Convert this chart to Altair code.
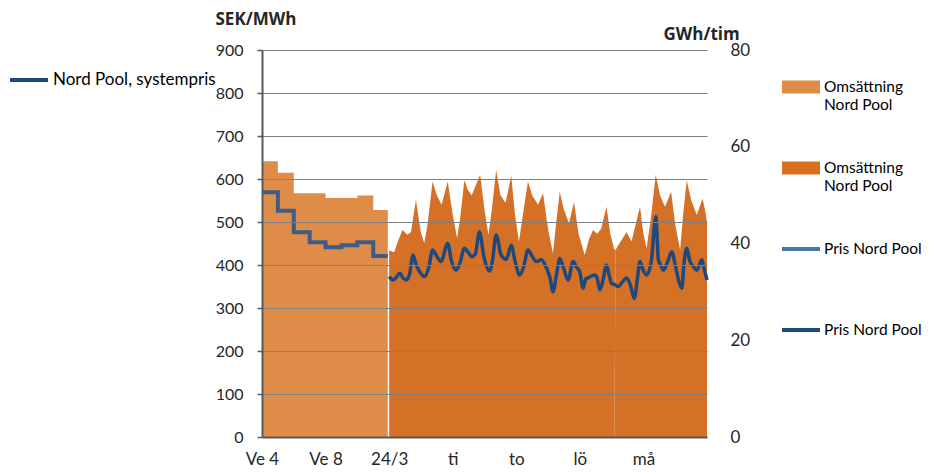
import altair as alt
import pandas as pd

# ---------------- data ----------------
weeks = [4, 5, 6, 7, 8, 9, 10, 11]
week_volume = [57.0, 54.6, 50.4, 50.4, 49.4, 49.4, 49.9, 46.9]      # GWh/tim
week_price = [569, 526, 476, 453, 441, 446, 453, 421]               # SEK/MWh

# hourly section, hours from 24/3 00:00
vol_hours = [0, 3.8, 6, 10, 13.9, 16.5, 20.2, 24, 26.5,
             29, 32.8, 36, 39.6, 44.2, 48, 51.3,
             53.5, 56.8, 59.5, 62.4, 68.7, 72, 75,
             77.5, 80.8, 84, 87.9, 92.2, 95, 98,
             101, 104.8, 108, 112.4, 116.2, 120, 123.7,
             126, 128.8, 132, 135.8, 139.6, 143, 147.7,
             151, 154, 157, 160, 164.1, 167, 170,
             171, 175, 179.3, 183, 189.4, 192, 194.4,
             197.5, 201.3, 204.5, 208.3, 212.9, 216, 219.7,
             222, 224.7, 228, 232.3, 236.6, 238.5, 240]
vol_values = [38.6, 38.2, 40.0, 42.8, 41.8, 42.4, 49.0, 42.2, 40.1,
              44.0, 52.8, 50.0, 48.0, 52.8, 46.0, 41.1,
              45.0, 53.1, 51.0, 50.0, 54.2, 47.0, 41.8,
              47.0, 55.2, 50.0, 48.4, 54.0, 46.0, 40.4,
              46.0, 52.8, 50.0, 48.0, 50.4, 43.0, 38.0,
              44.0, 50.7, 47.0, 44.2, 48.6, 42.0, 37.6,
              41.0, 42.8, 42.0, 43.0, 47.6, 42.0, 38.7,
              38.7, 40.5, 42.4, 40.4, 47.6, 42.0, 39.0,
              45.0, 54.2, 50.0, 47.6, 50.7, 44.0, 38.7,
              46.0, 53.1, 49.0, 45.9, 49.3, 47.0, 44.5]
dst_gap_hour = 170.5

price_hours = [0, 3, 5.5, 8, 10.5, 13, 15.5, 18, 20.5, 23,
               26.5, 30, 32.8, 36, 39.1, 44.2, 47, 50.5,
               53.5, 56.8, 60, 62.4, 65, 68.2, 71.5, 75.8,
               78, 80.8, 84.6, 88.4, 92.2, 95, 98.5,
               101.5, 104.8, 108, 111.1, 115, 118.9, 121.5, 123.7,
               126.5, 128.8, 131.5, 135.1, 138.9, 141.5, 143.9, 146.5,
               148.5, 150.3, 153, 155.3, 157, 159.1, 161.5, 164.1, 166, 167.9,
               170, 173, 176, 179.3, 182, 185.1, 187.5, 189.4, 191.5, 194.4,
               198, 201.3, 203.3, 205, 207.1, 210, 213.4, 216, 218.5, 221,
               222.5, 224.7, 227, 229.8, 232.3, 236.1, 238, 240]
price_values = [373, 365, 372, 381, 370, 365, 380, 423, 400, 385,
                373, 395, 435, 420, 408, 450, 410, 388,
                405, 439, 428, 419, 425, 477, 420, 386,
                410, 470, 423, 413, 446, 410, 377,
                395, 435, 420, 408, 412, 392, 370, 338,
                380, 415, 395, 365, 408, 395, 384, 346,
                368, 370, 375, 377, 370, 342, 365, 400, 378, 357,
                355, 350, 360, 370, 355, 322, 370, 408, 390, 377,
                410, 512, 412, 400, 388, 405, 431, 400, 365, 346,
                400, 439, 410, 396, 388, 412, 390, 365]

tick_hours = [-96, -48, 0, 48, 96, 144, 192]
tick_labels = ["Ve 4", "Ve 8", "24/3", "ti", "to", "lö", "må"]

legend_names = ["Omsättning|Nord Pool", "Omsättning|Nord Pool ", "Pris Nord Pool|", "Pris Nord Pool |"]
legend_colors = ["#DE8C48", "#D57121", "#4A77AA", "#1F497D"]
left_legend_name = ["Nord Pool, systempris"]

# ---------------- frames ----------------
# weekly section is drawn on the same hour axis: each week = 12 units, ending at 24/3
wk = pd.DataFrame({"x": [(w - 12) * 12 for w in weeks], "vol": week_volume, "price": week_price})
wk = pd.concat([wk, pd.DataFrame({"x": [-1], "vol": [week_volume[-1]], "price": [week_price[-1]]})],
               ignore_index=True)

hv = pd.DataFrame({"x": vol_hours, "vol": vol_values})
hv["seg"] = (hv["x"] > dst_gap_hour).astype(int)
hp = pd.DataFrame({"x": price_hours, "price": price_values})

dummy = pd.DataFrame({"series": legend_names, "x": [None] * 4, "price": [None] * 4})
dummy2 = pd.DataFrame({"series2": left_legend_name, "x": [None], "price": [None]})

# ---------------- encodings ----------------
FONT = "Lato"
label_expr = " : ".join(f"datum.value == {h} ? '{l}'" for h, l in zip(tick_hours, tick_labels)) + " : ''"

X = alt.X("x:Q", scale=alt.Scale(domain=[-96, 240], nice=False, zero=False),
          axis=alt.Axis(values=tick_hours, labelExpr=label_expr, ticks=False, grid=False,
                        domainColor="#595959", domainWidth=2, labelFont=FONT, labelFontSize=17,
                        labelColor="#262626", labelPadding=14, labelFlush=False, labelOverlap=False,
                        title=None, zindex=1))

Yvol = alt.Y("vol:Q", scale=alt.Scale(domain=[0, 80], nice=False),
             axis=alt.Axis(orient="right", values=[0, 20, 40, 60, 80], ticks=False, tickSize=0,
                           domain=False, grid=False, labelPadding=23, labelAlign="left",
                           labelFont=FONT, labelFontSize=17, labelColor="#262626",
                           title="GWh/tim", titleAngle=0, titleX=-44, titleY=-11,
                           titleAlign="left", titleBaseline="alphabetic",
                           titleFont="Open Sans", titleFontWeight="bold", titleFontSize=17,
                           titleColor="#262626"))

Yprice = alt.Y("price:Q", scale=alt.Scale(domain=[0, 900], nice=False),
               axis=alt.Axis(orient="left", values=list(range(0, 901, 100)), grid=True,
                             gridColor="#7F7F7F", gridWidth=1, tickSize=5, tickColor="#595959",
                             tickWidth=1.5, domainColor="#595959", domainWidth=2,
                             labelPadding=14, labelFont=FONT, labelFontSize=16, labelColor="#262626",
                             title="SEK/MWh", titleAngle=0, titleX=-47, titleY=-26,
                             titleAlign="left", titleBaseline="alphabetic",
                             titleFont="Open Sans", titleFontWeight="bold", titleFontSize=17,
                             titleColor="#262626", zindex=1))

rect_path = "M-1,-0.34H1V0.34H-1Z"
line_path = "M-1,-0.1H1V0.1H-1Z"

week_area = alt.Chart(wk).mark_area(interpolate="step-after", color="#D87828", opacity=0.85).encode(
    x=X, y=Yvol)
hour_area = alt.Chart(hv).mark_area(interpolate="linear", color="#CE5800", opacity=0.85).encode(
    x=X, y=Yvol, detail="seg:N")
areas = alt.layer(week_area, hour_area)

week_line = alt.Chart(wk).mark_line(interpolate="step-after", color="#3E5C87", strokeWidth=4).encode(
    x=X, y=Yprice)
hour_line = alt.Chart(hp).mark_line(interpolate="monotone", color="#1F497D", strokeWidth=3.5).encode(
    x=X, y=Yprice)

right_legend = alt.Legend(title=None, orient="none", legendX=520, legendY=18,
                          symbolSize=1444, symbolStrokeWidth=0, symbolOpacity=1,
                          labelExpr="split(datum.label, '|')", labelFont=FONT,
                          labelFontSize=15.5, labelColor="#000000", labelOffset=4,
                          labelLimit=250, rowPadding=36, padding=0)

legend_layer = alt.Chart(dummy).mark_point(filled=True).encode(
    x=X, y=Yprice,
    color=alt.Color("series:N", scale=alt.Scale(domain=legend_names, range=legend_colors),
                    legend=right_legend),
    shape=alt.Shape("series:N", scale=alt.Scale(domain=legend_names,
                                                range=[rect_path, rect_path, line_path, line_path]),
                    legend=right_legend),
)
left_legend_layer = alt.Chart(dummy2).mark_point(filled=True).encode(
    x=X, y=Yprice,
    fill=alt.Fill("series2:N", scale=alt.Scale(domain=left_legend_name, range=["#1F497D"]),
                  legend=alt.Legend(title=None, orient="none", legendX=-252, legendY=11,
                                    symbolType=line_path, symbolSize=1444, symbolStrokeWidth=0,
                                    symbolOpacity=1, labelFont=FONT, labelFontSize=17,
                                    labelColor="#000000", labelOffset=5, labelLimit=250, padding=0)),
)

lines = alt.layer(week_line, hour_line, legend_layer, left_legend_layer)

chart = alt.layer(areas, lines).resolve_scale(y="independent").properties(
    width=445, height=387,
    padding={"left": 254, "top": 42, "right": 216, "bottom": 36},
    autosize=alt.AutoSizeParams(type="none"),
    background="white",
).configure_view(stroke=None)

chart.save("out.html", embed_options={"renderer": "svg", "actions": False})
